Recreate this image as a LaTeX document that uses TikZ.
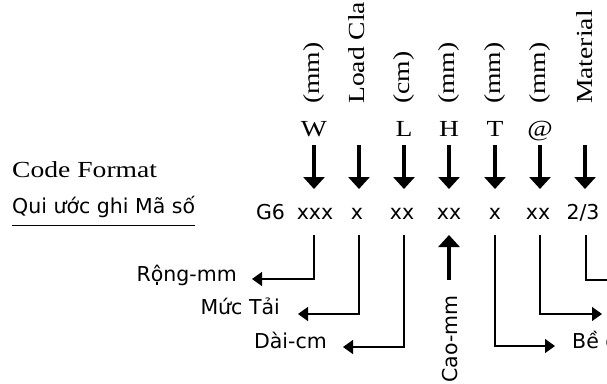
\documentclass[tikz,border=0pt]{standalone}
\usepackage{fontspec}
\usepackage{graphicx}
\newfontfamily\vnsans{DejaVu Sans}
\newfontfamily\gserif{Liberation Serif}
\usetikzlibrary{arrows.meta,calc}
\newcommand{\gsty}[1]{\scalebox{1.2}[1]{#1}}
\tikzset{
  serif/.style={font=\gserif\fontsize{23}{27}\selectfont, inner sep=0pt},
  rotlbl/.style={serif, rotate=90, anchor=west, text height=16pt, text depth=5pt},
  sans/.style={font=\vnsans\fontsize{20.5}{24}\selectfont, inner sep=0pt},
  bigarrow/.style={line width=3.5pt, -{Triangle[width=21pt,length=12pt]}},
  conn/.style={line width=1.2pt, -{Triangle[width=14pt,length=10pt]}},
  plainline/.style={line width=1.2pt},
}
\begin{document}
\begin{tikzpicture}[x=1pt,y=-1pt]
\useasboundingbox (0,0) rectangle (607,383);
\clip (0,0) rectangle (607,383);

% titles
\node[serif, anchor=base west] (title) at (12,177) {\gsty{Code Format}};
\node[sans, anchor=base west] (qui) at (12,213) {Qui ước ghi Mã số};
\draw[line width=0.9pt] ([yshift=-8pt]qui.south west) -- ([yshift=-8pt]qui.south east);

% rotated headings
\node[rotlbl] (hW) at (314,104) {\gsty{(mm)}};
\node[rotlbl] (hLd) at (359,104) {\gsty{Load Class}};
\node[rotlbl] (hL) at (404,104) {\gsty{(cm)}};
\node[rotlbl] (hH) at (449,104) {\gsty{(mm)}};
\node[rotlbl] (hT) at (495,104) {\gsty{(mm)}};
\node[rotlbl] (hA) at (540,104) {\gsty{(mm)}};
\node[rotlbl] (hM) at (587,104) {\gsty{Material}};

% letters
\node[serif, anchor=base] (lW) at (314,136) {\gsty{W}};
\node[serif, anchor=base] (lL) at (404,136) {\gsty{L}};
\node[serif, anchor=base] (lH) at (449,136) {\gsty{H}};
\node[serif, anchor=base] (lT) at (495,136) {\gsty{T}};
\node[serif, anchor=base] (lA) at (540,136) {\gsty{@}};

% top arrows
\foreach \x/\n in {314/W,359/Ld,404/L,449/H,495/T,540/A,585/M}{
  \coordinate (top\n) at (\x,145);
  \coordinate (bot\n) at (\x,189);
  \draw[bigarrow] (top\n) -- (bot\n);
}

% code row
\node[sans, anchor=base] (cG) at (270.5,219) {G6};
\node[sans, anchor=base] (cW) at (315,219) {xxx};
\node[sans, anchor=base] (cLd) at (357,219) {x};
\node[sans, anchor=base] (cL) at (402,219) {xx};
\node[sans, anchor=base] (cH) at (449,219) {xx};
\node[sans, anchor=base] (cT) at (495,219) {x};
\node[sans, anchor=base] (cA) at (538,219) {xx};
\node[sans, anchor=base] (cM) at (583,219) {2/3};

% bottom labels
\node[sans, anchor=base east] (rong) at (237,281) {Rộng-mm};
\node[sans, anchor=base east] (muc) at (280,314) {Mức Tải};
\node[sans, anchor=base east] (dai) at (327,348) {Dài-cm};
\node[sans, rotate=90, anchor=east] (cao) at (450,295) {Cao-mm};
\node[sans, anchor=base west] (bed) at (572,348) {Bề dày};

% connector points
\coordinate (sW) at (314,235);  \coordinate (tW) at (252,279);
\coordinate (sLd) at (359,235); \coordinate (tLd) at (298,314);
\coordinate (sL) at (404,235);  \coordinate (tL) at (343,347);
\coordinate (sT) at (495,235);  \coordinate (tT) at (555,346);
\coordinate (sA) at (540,235);  \coordinate (tA) at (602,314);
\coordinate (sM) at (586,235);  \coordinate (tM) at (612,280);
\coordinate (hB) at (449,280);  \coordinate (hT0) at (449,235);

\draw[conn] (sW) |- (tW);
\draw[conn] (sLd) |- (tLd);
\draw[conn] (sL) |- (tL);
\draw[conn] (sT) |- (tT);
\draw[conn] (sA) |- (tA);
\draw[plainline] (sM) |- (tM);
\draw[bigarrow] (hB) -- (hT0);
\end{tikzpicture}
\end{document}
